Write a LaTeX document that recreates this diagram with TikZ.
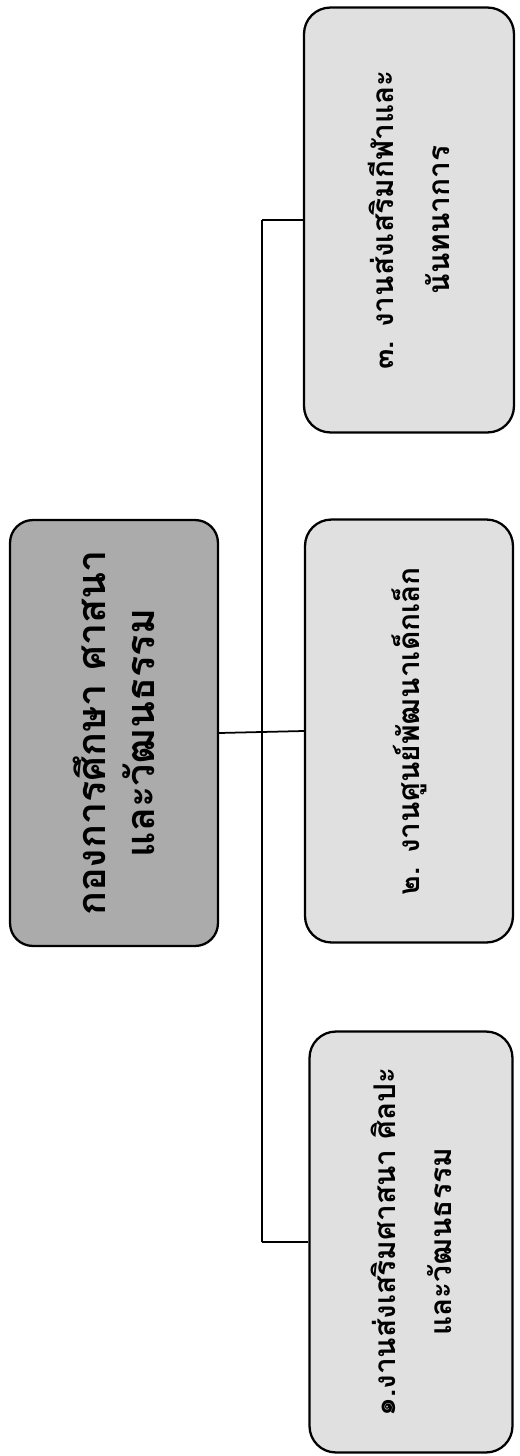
\documentclass[tikz,border=0pt]{standalone}
\usepackage{fontspec}
\newfontfamily\thaifont[Script=Thai]{Loma}
\begin{document}
\begin{tikzpicture}[x=0.02cm,y=-0.02cm,
  headbox/.style={draw,line width=1.3pt,fill=black!33,rounded corners=13pt,rotate=90,align=center,
    minimum width=8.52cm,minimum height=4.16cm,font=\thaifont\bfseries\fontsize{22.5}{28}\selectfont},
  unitbox/.style={draw,line width=1.3pt,fill=black!12,rounded corners=15pt,rotate=90,align=center,
    font=\thaifont\bfseries\fontsize{17}{32}\selectfont},
  link/.style={line width=1pt}]
\useasboundingbox (0,0) rectangle (520,1456);
% head of the division
\node[headbox] (head) at (114,733) {กองการศึกษา ศาสนา\\และวัฒนธรรม};
% the three units
\node[unitbox,minimum width=8.5cm,minimum height=4.2cm] (u3) at (409,220) {๓. งานส่งเสริมกีฬาและ\\นันทนาการ};
\node[unitbox,minimum width=8.46cm,minimum height=4.16cm] (u2) at (409,731) {๒. งานศูนย์พัฒนาเด็กเล็ก};
\node[unitbox,minimum width=8.42cm,minimum height=4.06cm] (u1) at (411,1242) {๑.งานส่งเสริมศาสนา ศิลปะ\\และวัฒนธรรม};
% connectors
\coordinate (bus) at (262,733);
\draw[link] (head.south) -- (u2.north);
\draw[link,line width=1.6pt] (u3.north -| bus) -- (u1.north -| bus);
\draw[link] (u3.north) -- (u3.north -| bus);
\draw[link] (u1.north) -- (u1.north -| bus);
\end{tikzpicture}
\end{document}
